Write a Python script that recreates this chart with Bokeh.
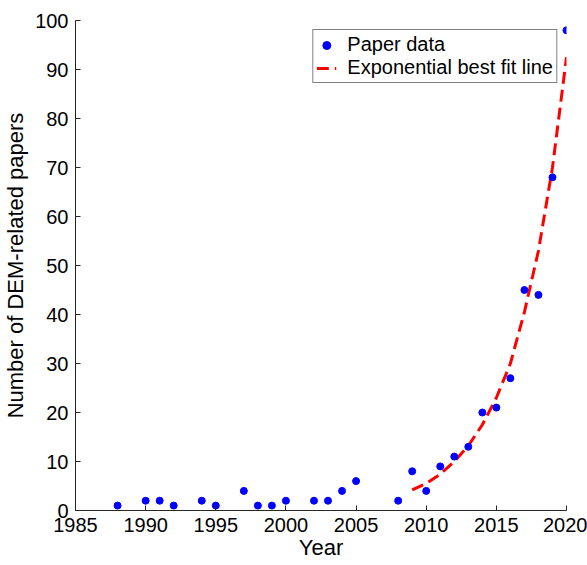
from bokeh.plotting import figure
from bokeh.models import ColumnDataSource, Range1d, FixedTicker, Legend, LegendItem
from bokeh.embed import file_html
from bokeh.resources import INLINE

# Paper data
years = [1988, 1990, 1991, 1992, 1994, 1995, 1997, 1998, 1999, 2000, 2002, 2003,
         2004, 2005, 2008, 2009, 2010, 2011, 2012, 2013, 2014, 2015, 2016, 2017,
         2018, 2019, 2020]
papers = [1, 2, 2, 1, 2, 1, 4, 1, 1, 2, 2, 2, 4, 6, 2, 8, 4, 9, 11, 13, 20, 21,
          27, 45, 44, 68, 98]

# Exponential best fit line
fit_years = [2009, 2010, 2011, 2012, 2013, 2014, 2015, 2016, 2017, 2018, 2019, 2020]
fit_vals = [4.2, 5.5, 7.4, 10.0, 13.2, 17.5, 23.0, 30.0, 40.5, 53.0, 70.0, 92.5]

x_ticks = [1985, 1990, 1995, 2000, 2005, 2010, 2015, 2020]
y_ticks = [0, 10, 20, 30, 40, 50, 60, 70, 80, 90, 100]

FONT = "Liberation Sans"
TXT = "#262626"

p = figure(width=587, height=565, output_backend="svg", toolbar_location=None,
           x_range=Range1d(1985, 2020), y_range=Range1d(0, 100),
           min_border_left=73, min_border_right=21, min_border_top=20,
           min_border_bottom=55)
p.outline_line_color = None
p.xgrid.visible = False
p.ygrid.visible = False

src_pts = ColumnDataSource(dict(x=years, y=papers))
src_fit = ColumnDataSource(dict(x=fit_years, y=fit_vals))

r_fit = p.line("x", "y", source=src_fit, line_color="#FF0000", line_width=3,
               line_dash="12 6")
r_pts = p.scatter("x", "y", source=src_pts, size=7, fill_color="#0000FF",
                  line_color="#0000FF")

for ax, ticks, label in ((p.xaxis[0], x_ticks, "Year"),
                         (p.yaxis[0], y_ticks, "Number of DEM-related papers")):
    ax.ticker = FixedTicker(ticks=ticks)
    ax.minor_tick_line_color = None
    ax.major_tick_in = 5
    ax.major_tick_out = 0
    ax.axis_line_color = TXT
    ax.major_tick_line_color = TXT
    ax.major_label_text_font = FONT
    ax.major_label_text_font_size = "20px"
    ax.major_label_text_color = "#000000"
    ax.axis_label = label
    ax.axis_label_text_font = FONT
    ax.axis_label_text_font_size = "22px"
    ax.axis_label_text_font_style = "normal"
    ax.axis_label_text_color = "#000000"

p.xaxis[0].major_label_standoff = 7
p.xaxis[0].axis_label_standoff = 0
p.yaxis[0].major_label_standoff = 7
p.yaxis[0].axis_label_standoff = 4

legend = Legend(items=[LegendItem(label="Paper data", renderers=[r_pts]),
                       LegendItem(label="Exponential best fit line", renderers=[r_fit])],
                location="top_right", margin=9, padding=3, spacing=0,
                label_text_font=FONT, label_text_font_size="20px",
                label_text_line_height=1.0,
                label_text_color="#000000", label_height=22, glyph_height=22,
                glyph_width=20, label_standoff=11,
                border_line_color="#000000", border_line_width=1,
                background_fill_color="white", background_fill_alpha=1)
p.add_layout(legend)

open("out.html", "w").write(file_html(p, INLINE))
